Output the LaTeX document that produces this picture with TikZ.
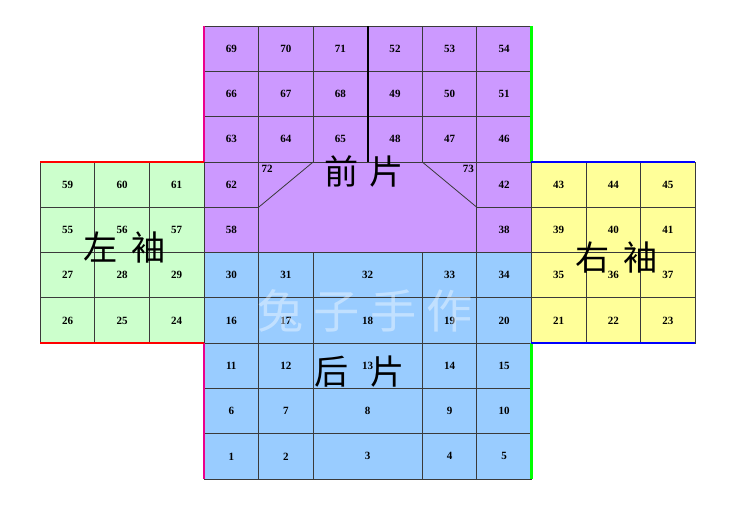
\documentclass[tikz,border=0pt]{standalone}
\usepackage{fontspec}
\usepackage{xcolor}
\usepackage{tikz}
\usetikzlibrary{positioning}
\setmainfont{Liberation Serif}
\newfontfamily\cjk{Noto Sans CJK SC}

\definecolor{frontc}{HTML}{CC99FF}
\definecolor{backc}{HTML}{99CCFF}
\definecolor{leftc}{HTML}{CCFFCC}
\definecolor{rightc}{HTML}{FFFF99}
\definecolor{gridc}{HTML}{3A3A3A}

\def\cw{1.91}
\def\ch{1.585}

\begin{document}
\begin{tikzpicture}[
        node distance=0cm and 0cm,
        every node/.style={anchor=south west, minimum width=1.91cm, minimum height=1.585cm, draw=gridc, line width=0.8pt, outer sep=0, inner sep=0, font=\bfseries\fontsize{11}{13}\selectfont},
        front/.style={fill=frontc},
        back/.style={fill=backc},
        lsleeve/.style={fill=leftc},
        rsleeve/.style={fill=rightc},
        wide/.style={minimum width=3.82cm},
        tag/.style={draw=none, minimum width=0, minimum height=0, inner sep=3pt},
        hand/.style={draw=none, anchor=center, minimum width=0, minimum height=0, font=\cjk\fontsize{34}{36}\selectfont},
        seam/.style={line width=2.4pt},
    ]
        \useasboundingbox (-7.14,-1.715) rectangle (19.11,16.765);

        % back piece
        \node [back] (c1) at (0,0) {1};
        \node [back, right=0 of c1] (c2) {2};
        \node [back, wide, right=0 of c2] (c3) {3};
        \node [back, right=0 of c3] (c4) {4};
        \node [back, right=0 of c4] (c5) {5};
        \node [back] (c6) at (0,\ch) {6};
        \node [back, right=0 of c6] (c7) {7};
        \node [back, wide, right=0 of c7] (c8) {8};
        \node [back, right=0 of c8] (c9) {9};
        \node [back, right=0 of c9] (c10) {10};
        \node [back] (c11) at (0,2*\ch) {11};
        \node [back, right=0 of c11] (c12) {12};
        \node [back, wide, right=0 of c12] (c13) {13};
        \node [back, right=0 of c13] (c14) {14};
        \node [back, right=0 of c14] (c15) {15};
        \node [back] (c16) at (0,3*\ch) {16};
        \node [back, right=0 of c16] (c17) {17};
        \node [back, wide, right=0 of c17] (c18) {18};
        \node [back, right=0 of c18] (c19) {19};
        \node [back, right=0 of c19] (c20) {20};
        \node [back] (c30) at (0,4*\ch) {30};
        \node [back, right=0 of c30] (c31) {31};
        \node [back, wide, right=0 of c31] (c32) {32};
        \node [back, right=0 of c32] (c33) {33};
        \node [back, right=0 of c33] (c34) {34};

        % front piece
        \node [front] (c58) at (0,5*\ch) {58};
        \node [front, minimum width=7.64cm, minimum height=3.17cm] (mid) at (\cw,5*\ch) {};
        \node [front] (c38) at (5*\cw,5*\ch) {38};
        \node [front] (c62) at (0,6*\ch) {62};
        \node [front] (c42) at (5*\cw,6*\ch) {42};
        \node [front] (c63) at (0,7*\ch) {63};
        \node [front, right=0 of c63] (c64) {64};
        \node [front, right=0 of c64] (c65) {65};
        \node [front, right=0 of c65] (c48) {48};
        \node [front, right=0 of c48] (c47) {47};
        \node [front, right=0 of c47] (c46) {46};
        \node [front] (c66) at (0,8*\ch) {66};
        \node [front, right=0 of c66] (c67) {67};
        \node [front, right=0 of c67] (c68) {68};
        \node [front, right=0 of c68] (c49) {49};
        \node [front, right=0 of c49] (c50) {50};
        \node [front, right=0 of c50] (c51) {51};
        \node [front] (c69) at (0,9*\ch) {69};
        \node [front, right=0 of c69] (c70) {70};
        \node [front, right=0 of c70] (c71) {71};
        \node [front, right=0 of c71] (c52) {52};
        \node [front, right=0 of c52] (c53) {53};
        \node [front, right=0 of c53] (c54) {54};
        \draw [gridc, line width=0.8pt] (mid.west) -- (c64.south east);
        \draw [gridc, line width=0.8pt] (c47.south west) -- (mid.east);
        \draw [black, line width=2pt] (c71.north east) -- (c65.south east);
        \node [tag, anchor=north west] (c72) at (mid.north west) {72};
        \node [tag, anchor=north east] (c73) at (mid.north east) {73};

        % left sleeve
        \node [lsleeve] (c26) at (-3*\cw,3*\ch) {26};
        \node [lsleeve, right=0 of c26] (c25) {25};
        \node [lsleeve, right=0 of c25] (c24) {24};
        \node [lsleeve] (c27) at (-3*\cw,4*\ch) {27};
        \node [lsleeve, right=0 of c27] (c28) {28};
        \node [lsleeve, right=0 of c28] (c29) {29};
        \node [lsleeve] (c55) at (-3*\cw,5*\ch) {55};
        \node [lsleeve, right=0 of c55] (c56) {56};
        \node [lsleeve, right=0 of c56] (c57) {57};
        \node [lsleeve] (c59) at (-3*\cw,6*\ch) {59};
        \node [lsleeve, right=0 of c59] (c60) {60};
        \node [lsleeve, right=0 of c60] (c61) {61};

        % right sleeve
        \node [rsleeve] (c21) at (6*\cw,3*\ch) {21};
        \node [rsleeve, right=0 of c21] (c22) {22};
        \node [rsleeve, right=0 of c22] (c23) {23};
        \node [rsleeve] (c35) at (6*\cw,4*\ch) {35};
        \node [rsleeve, right=0 of c35] (c36) {36};
        \node [rsleeve, right=0 of c36] (c37) {37};
        \node [rsleeve] (c39) at (6*\cw,5*\ch) {39};
        \node [rsleeve, right=0 of c39] (c40) {40};
        \node [rsleeve, right=0 of c40] (c41) {41};
        \node [rsleeve] (c43) at (6*\cw,6*\ch) {43};
        \node [rsleeve, right=0 of c43] (c44) {44};
        \node [rsleeve, right=0 of c44] (c45) {45};

        % seam edges
        \draw [seam, magenta] (c69.north west) -- (c63.south west);
        \draw [seam, magenta] (c11.north west) -- (c1.south west);
        \draw [seam, green] (c54.north east) -- (c46.south east);
        \draw [seam, green] (c15.north east) -- (c5.south east);
        \draw [seam, red] (c59.north west) -- (c61.north east);
        \draw [seam, red] (c26.south west) -- (c24.south east);
        \draw [seam, blue] (c43.north west) -- (c45.north east);
        \draw [seam, blue] (c21.south west) -- (c23.south east);

        % labels
        \node [hand, text=white, text opacity=0.4, font=\cjk\fontsize{46}{48}\selectfont] (mark) at (5.64,5.9) {兔\hspace{10pt}子\hspace{10pt}手\hspace{10pt}作};
        \node [hand] (qian) at (5.6,10.75) {前\hspace{0.3em}片};
        \node [hand] (hou) at (5.45,3.75) {后\hspace{0.65em}片};
        \node [hand] (zuo) at (-2.77,8.12) {左\hspace{0.4em}袖};
        \node [hand] (you) at (14.45,7.74) {右\hspace{0.4em}袖};
    \end{tikzpicture}
\end{document}
